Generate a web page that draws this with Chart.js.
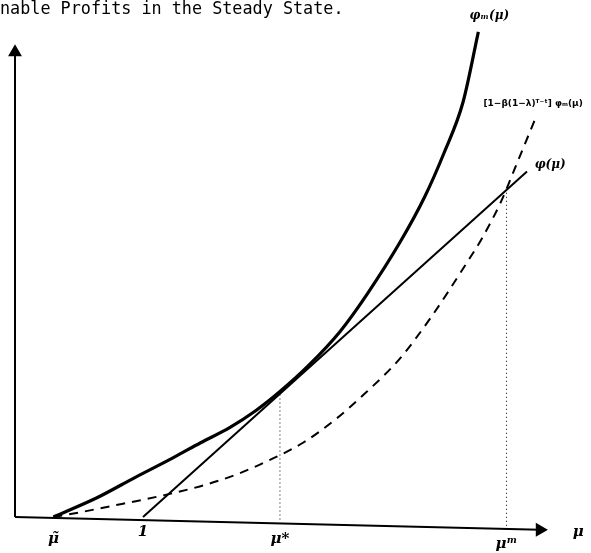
<!DOCTYPE html>
<html>
<head>
<meta charset="utf-8">
<script src="https://cdn.jsdelivr.net/npm/chart.js@4.4.1/dist/chart.umd.min.js"></script>
<style>
  html, body { margin: 0; padding: 0; background: #fff; }
  #wrap { position: relative; width: 591px; height: 553px; }
</style>
</head>
<body>
<div id="wrap"><canvas id="chart" width="591" height="553"></canvas></div>
<script>
// values (mu on x, profit on y)
const phiMu = [0.30, 0.64, 0.94, 1.23, 1.45, 1.68, 1.88, 2.07, 2.29, 2.54, 2.75, 3.01, 3.20, 3.35, 3.50, 3.62];
const phiM  = [0.00, 0.15, 0.31, 0.46, 0.58, 0.70, 0.83, 0.98, 1.18, 1.45, 1.74, 2.15, 2.50, 2.84, 3.24, 3.79];

const lineMu = [1.00, 4.00];
const lineVal = [0.00, 2.70];

const dashMu  = [0.30, 0.50, 0.75, 1.00, 1.25, 1.50, 1.75, 2.00, 2.25, 2.50, 2.75, 3.00, 3.25, 3.50, 3.65, 3.80, 3.92, 4.06];
const dashVal = [0.00, 0.035, 0.085, 0.135, 0.19, 0.255, 0.34, 0.45, 0.58, 0.76, 0.98, 1.23, 1.56, 1.94, 2.18, 2.47, 2.76, 3.10];

const muStar = 2.07, muStarVal = 0.97;
const muBar = 3.84, muBarVal = 2.56;

const tickLabels = ['μ̃', '1', 'μ*', 'μᵐ', 'μ'];
const tickMu = [0.30, 1.00, 2.07, 3.84, 4.40];

const curveLabels = ['φₘ(μ)', '[1−β(1−λ)ᵀ⁻ᵗ] φₘ(μ)', 'φ(μ)'];

const pts = (xs, ys) => xs.map((x, i) => ({ x, y: ys[i] }));

const labelPlugin = {
  id: 'labels',
  afterDatasetsDraw(chart) {
    const { ctx, scales: { x, y } } = chart;
    ctx.save();
    ctx.fillStyle = '#000';
    ctx.font = '16.8px "DejaVu Sans Mono"';
    ctx.textBaseline = 'alphabetic';
    ctx.textAlign = 'left';
    ctx.fillText('nable Profits in the Steady State.', 0, 14);

    ctx.font = 'bold italic 15px "DejaVu Serif"';
    ctx.textAlign = 'center';
    const tickY = [-0.20, -0.15, -0.20, -0.24, -0.15];
    tickLabels.forEach((t, i) => {
      ctx.fillText(t, x.getPixelForValue(tickMu[i]), y.getPixelForValue(tickY[i]));
    });

    ctx.font = 'bold italic 12px "DejaVu Serif"';
    ctx.textAlign = 'left';
    ctx.fillText(curveLabels[0], x.getPixelForValue(3.55), y.getPixelForValue(3.89));
    ctx.font = 'bold 9px "DejaVu Sans"';
    ctx.fillText(curveLabels[1], x.getPixelForValue(3.66), y.getPixelForValue(3.21));
    ctx.font = 'bold italic 12px "DejaVu Serif"';
    ctx.fillText(curveLabels[2], x.getPixelForValue(4.06), y.getPixelForValue(2.73));
    ctx.restore();
  }
};

new Chart(document.getElementById('chart'), {
  type: 'scatter',
  data: {
    datasets: [
      {
        // vertical axis
        data: [{ x: 0, y: 0 }, { x: 0, y: 3.63 }],
        showLine: true, borderColor: '#000', borderWidth: 2,
        pointRadius: [0, 6], pointStyle: 'triangle', pointRotation: 0,
        backgroundColor: '#000'
      },
      {
        // horizontal axis (slightly tilted in the scan)
        data: [{ x: 0, y: 0 }, { x: 4.10, y: -0.10 }],
        showLine: true, borderColor: '#000', borderWidth: 2,
        pointRadius: [0, 6], pointStyle: 'triangle', pointRotation: 90,
        backgroundColor: '#000'
      },
      {
        data: pts(phiMu, phiM),
        showLine: true, borderColor: '#000', borderWidth: 3.2,
        pointRadius: 0, cubicInterpolationMode: 'monotone'
      },
      {
        data: pts(lineMu, lineVal),
        showLine: true, borderColor: '#000', borderWidth: 2,
        pointRadius: 0
      },
      {
        data: pts(dashMu, dashVal),
        showLine: true, borderColor: '#000', borderWidth: 2,
        borderDash: [9, 7], pointRadius: 0, cubicInterpolationMode: 'monotone'
      },
      {
        data: [{ x: muStar, y: -0.02 }, { x: muStar, y: muStarVal }],
        showLine: true, borderColor: '#000', borderWidth: 1,
        borderDash: [1, 3], pointRadius: 0
      },
      {
        data: [{ x: muBar, y: -0.10 }, { x: muBar, y: muBarVal }],
        showLine: true, borderColor: '#000', borderWidth: 1,
        borderDash: [1, 3], pointRadius: 0
      }
    ]
  },
  options: {
    responsive: false,
    animation: false,
    layout: { padding: 0, autoPadding: false },
    plugins: { legend: { display: false }, tooltip: { enabled: false } },
    scales: {
      x: { type: 'linear', display: false, min: -15 / 128, max: 576 / 128 },
      y: { type: 'linear', display: false, min: -36 / 128, max: 517 / 128 }
    }
  },
  plugins: [labelPlugin]
});
</script>
</body>
</html>
